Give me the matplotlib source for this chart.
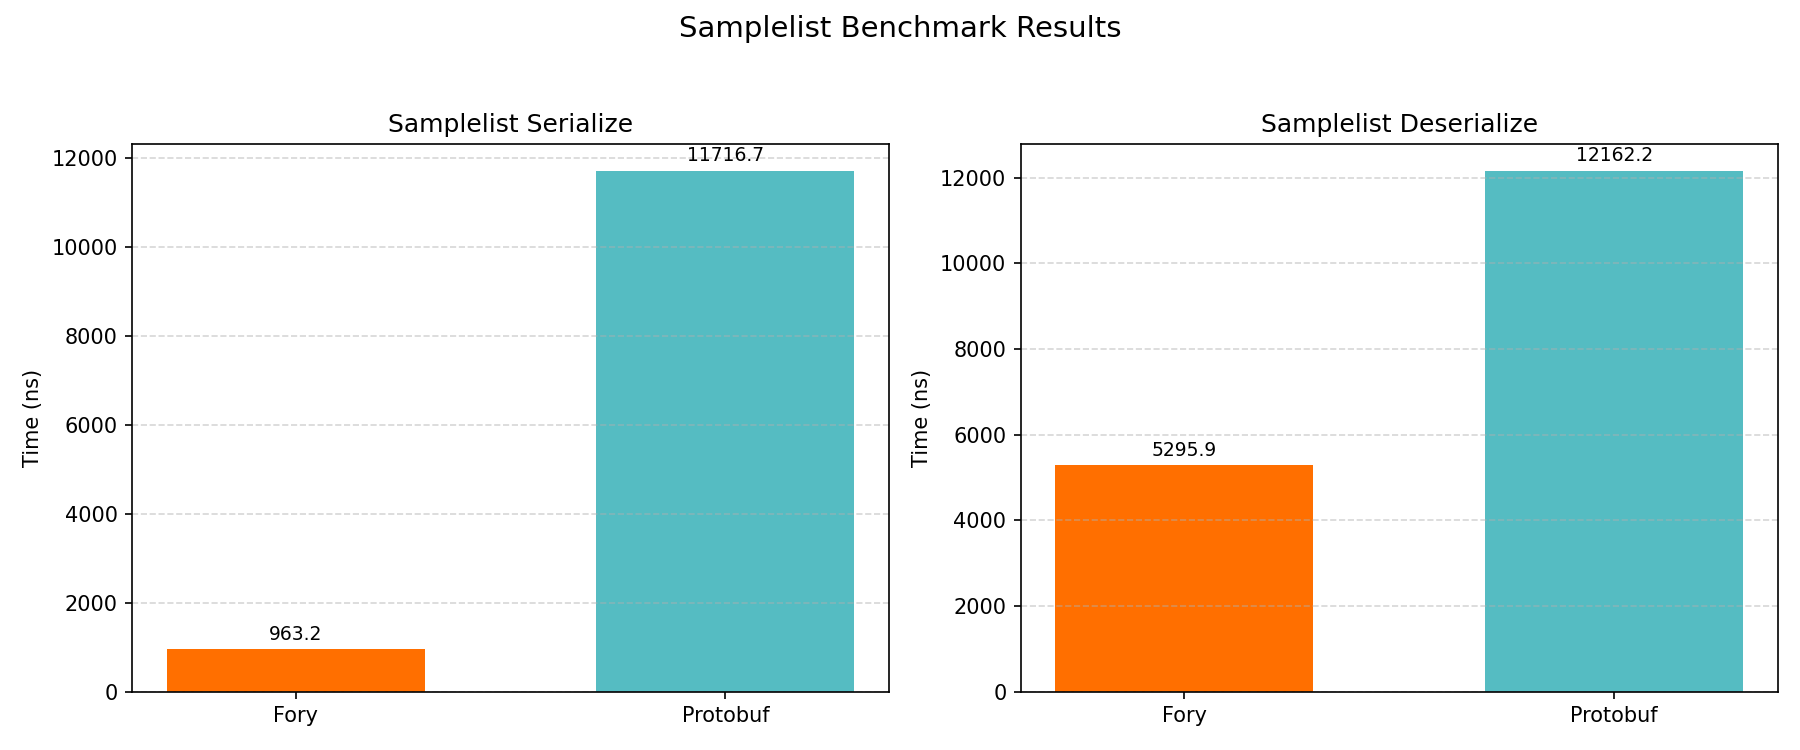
import matplotlib
matplotlib.use("Agg")
import matplotlib.pyplot as plt

libs = ["Fory", "Protobuf"]
serialize_ns = [963.2, 11716.7]
deserialize_ns = [5295.9, 12162.2]
colors = ["#FF6F00", "#55BCC2"]

panels = [
    ("Samplelist Serialize", serialize_ns),
    ("Samplelist Deserialize", deserialize_ns),
]

fig, axes = plt.subplots(1, 2, figsize=(12, 5))

for ax, (title, vals) in zip(axes, panels):
    bars = ax.bar(libs, vals, color=colors, width=0.6)
    ax.set_title(title, fontsize=12)
    ax.set_ylabel("Time (ns)")
    ax.grid(True, axis="y", linestyle="--", alpha=0.5)
    top = max(vals)
    for b, v in zip(bars, vals):
        ax.text(b.get_x() + b.get_width() / 2, v + top * 0.01, "%.1f" % v,
                ha="center", va="bottom", fontsize=9)

fig.suptitle("Samplelist Benchmark Results", fontsize=14)
fig.tight_layout(rect=[0, 0, 1, 0.95])
fig.savefig("out.png", dpi=150)
